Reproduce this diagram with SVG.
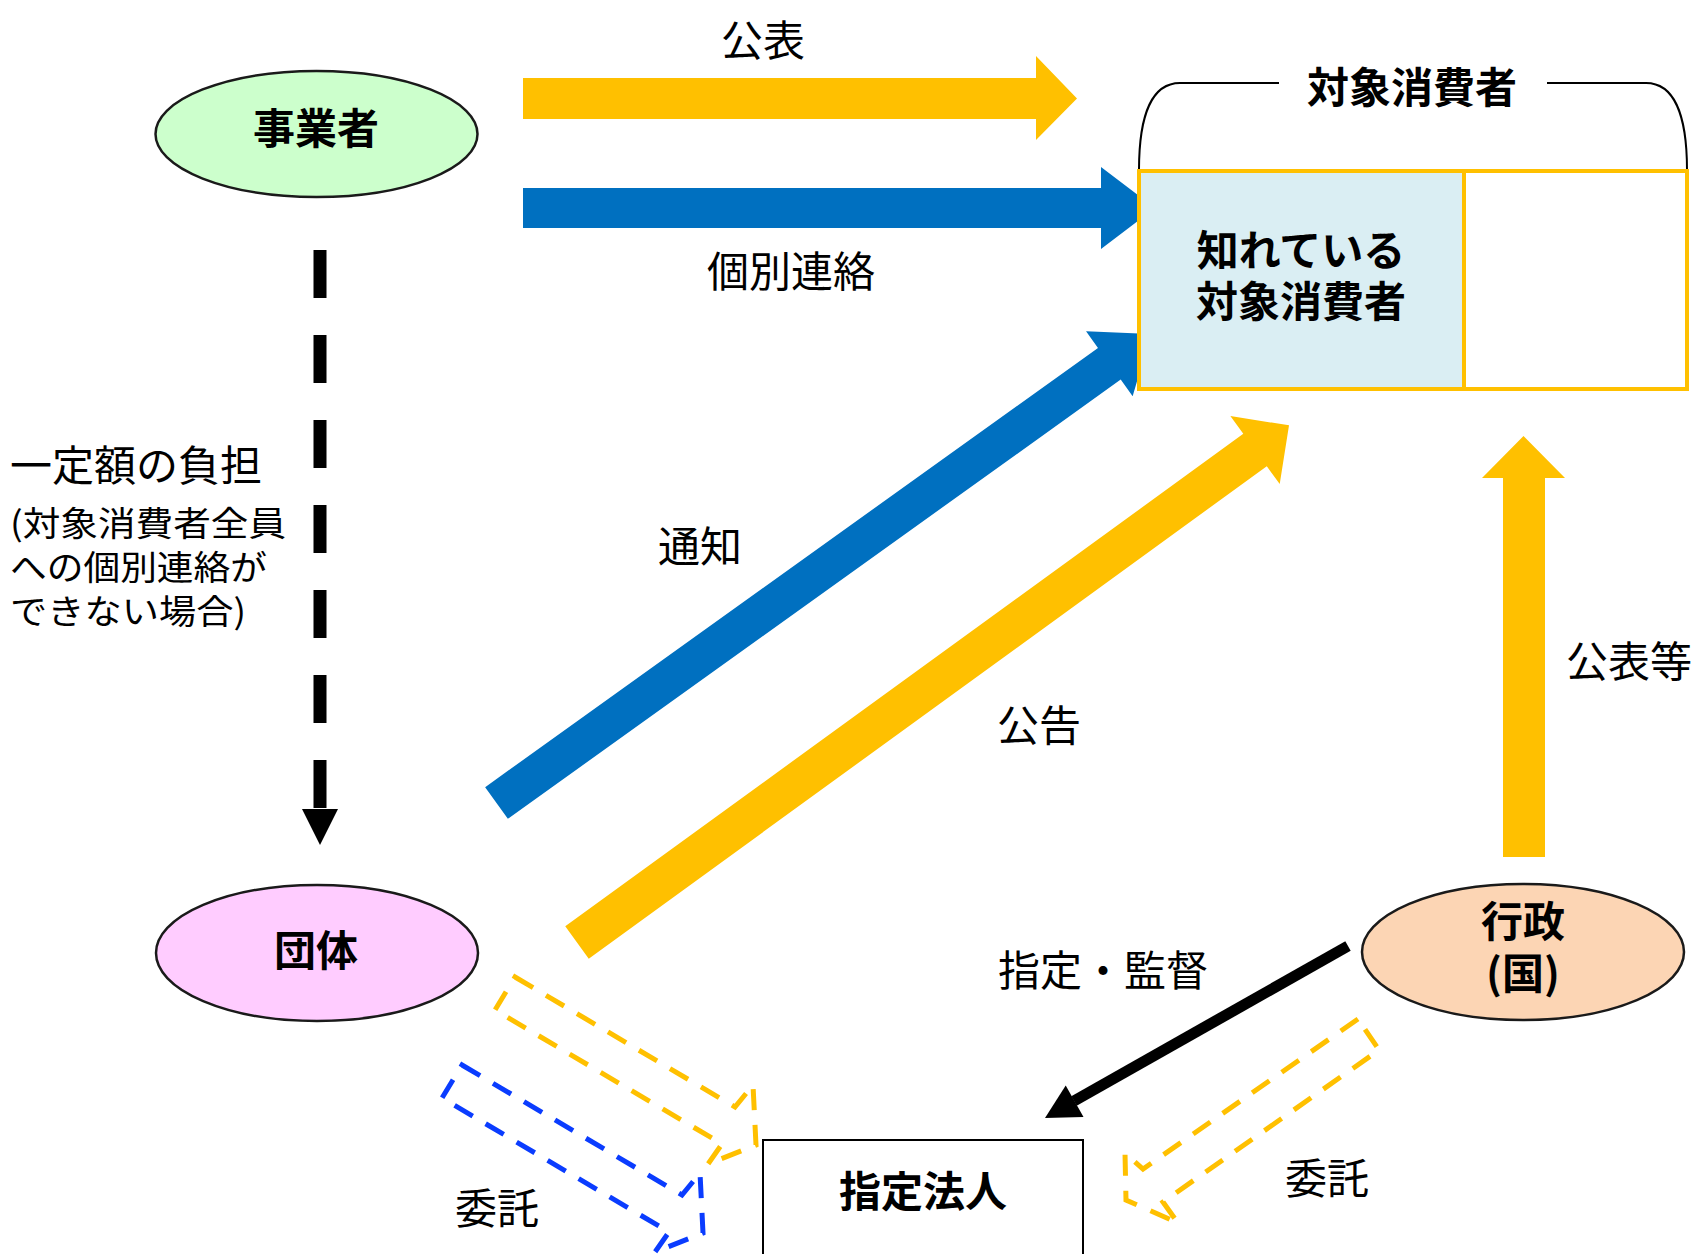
<svg xmlns="http://www.w3.org/2000/svg" width="1692" height="1254" viewBox="0 0 1692 1254">
<style>
text{font-family:"Noto Sans CJK JP","Noto Sans",sans-serif;fill:#000}
.lbl{font-size:42px}
.bold{font-size:42px;font-weight:bold}
.small{font-size:34px}
.ell{stroke:#1a1a1a;stroke-width:2.5}
.dashO{fill:none;stroke:#FFC000;stroke-width:5;stroke-dasharray:21 15;stroke-linejoin:miter}
.dashB{fill:none;stroke:#0A3CFF;stroke-width:5;stroke-dasharray:21 15;stroke-linejoin:miter}
</style>
<rect width="1692" height="1254" fill="#fff"/>

<g id="connectors">
  <!-- 公表 arrow -->
  <polygon points="523,78 1036,78 1036,56 1077,98.5 1036,140 1036,119 523,119" fill="#FFC000"/>
  <!-- 個別連絡 arrow -->
  <polygon points="523,188 1101,188 1101,167 1155,208 1101,249 1101,228 523,228" fill="#0070C0"/>
  <!-- 通知 arrow -->
  <polygon transform="translate(496.5,803) rotate(-35.63)" points="0,-19.5 754,-19.5 754,-40 805,0 754,40 754,19.5 0,19.5" fill="#0070C0"/>
  <!-- 公告 arrow -->
  <polygon transform="translate(577,942.5) rotate(-35.99)" points="0,-20 838,-20 838,-42 880,0 838,42 838,20 0,20" fill="#FFC000"/>
  <!-- 公表等 arrow -->
  <polygon points="1503,857 1503,478 1482,478 1523.5,436 1565,478 1545,478 1545,857" fill="#FFC000"/>
  <!-- 一定額の負担 dashed arrow -->
  <line x1="320" y1="250" x2="320" y2="810" stroke="#000" stroke-width="13" stroke-dasharray="48 37"/>
  <polygon points="302,809 338,809 320,845" fill="#000"/>
  <!-- 指定・監督 arrow -->
  <line x1="1348" y1="946" x2="1074" y2="1101" stroke="#000" stroke-width="11"/>
  <polygon points="1045,1118 1065.7,1085.5 1083.5,1116.9" fill="#000"/>
  <!-- 委託 dashed arrows -->
  <polygon class="dashO" points="515,977 735,1107 753,1085 756,1145 708,1164 722,1144 495,1010"/>
  <polygon class="dashB" points="462,1065 682,1195 700,1173 703,1233 655,1252 669,1232 442,1098"/>
  <polygon class="dashO" points="1358,1019 1143,1169 1125,1153 1126,1200 1178,1223 1163,1202 1379,1050"/>
</g>

<g id="node-jigyosha">
  <ellipse class="ell" cx="316.5" cy="134" rx="161" ry="63" fill="#CCFFCC"/>
  <text class="bold" x="316" y="144" text-anchor="middle">事業者</text>
</g>

<g id="node-dantai">
  <ellipse class="ell" cx="317" cy="953" rx="161" ry="68" fill="#FFCCFF"/>
  <text class="bold" x="316" y="966" text-anchor="middle">団体</text>
</g>

<g id="node-gyosei">
  <ellipse class="ell" cx="1523" cy="952" rx="161" ry="68" fill="#FCD5B4"/>
  <text class="bold" text-anchor="middle"><tspan x="1523" y="937">行政</tspan><tspan x="1523" y="989">(国)</tspan></text>
</g>

<g id="node-shitei">
  <rect x="763" y="1140" width="320" height="130" fill="#fff" stroke="#000" stroke-width="2"/>
  <text class="bold" x="923" y="1207" text-anchor="middle">指定法人</text>
</g>

<g id="node-taisho">
  <path d="M1139,170 C1139,115 1152,83 1180,83 L1279,83 M1547,83 L1646,83 C1674,83 1687,115 1687,170" fill="none" stroke="#000" stroke-width="2"/>
  <text class="bold" x="1412" y="103" text-anchor="middle">対象消費者</text>
  <rect x="1139" y="171" width="325" height="218" fill="#DAEEF3"/>
  <rect x="1139" y="171" width="548" height="218" fill="none" stroke="#FFC000" stroke-width="4"/>
  <line x1="1464" y1="171" x2="1464" y2="389" stroke="#FFC000" stroke-width="4"/>
  <text class="bold" text-anchor="middle"><tspan x="1301" y="266">知れている</tspan><tspan x="1301" y="317">対象消費者</tspan></text>
</g>

<g id="labels">
  <text class="lbl" x="763" y="56" text-anchor="middle">公表</text>
  <text class="lbl" x="791" y="287" text-anchor="middle">個別連絡</text>
  <text class="lbl" x="700" y="562" text-anchor="middle">通知</text>
  <text class="lbl" x="1039" y="741" text-anchor="middle">公告</text>
  <text class="lbl" x="1566" y="677">公表等</text>
  <text class="lbl" x="1103" y="986" text-anchor="middle">指定・監督</text>
  <text class="lbl" x="1327" y="1194" text-anchor="middle">委託</text>
  <text class="lbl" x="497" y="1224" text-anchor="middle">委託</text>
  <text class="lbl" x="10" y="481">一定額の負担</text>
  <text class="small"><tspan x="10" y="536" textLength="276" lengthAdjust="spacingAndGlyphs">(対象消費者全員</tspan><tspan x="10" y="580" textLength="257" lengthAdjust="spacingAndGlyphs">への個別連絡が</tspan><tspan x="10" y="624" textLength="236" lengthAdjust="spacingAndGlyphs">できない場合)</tspan></text>
</g>
</svg>
